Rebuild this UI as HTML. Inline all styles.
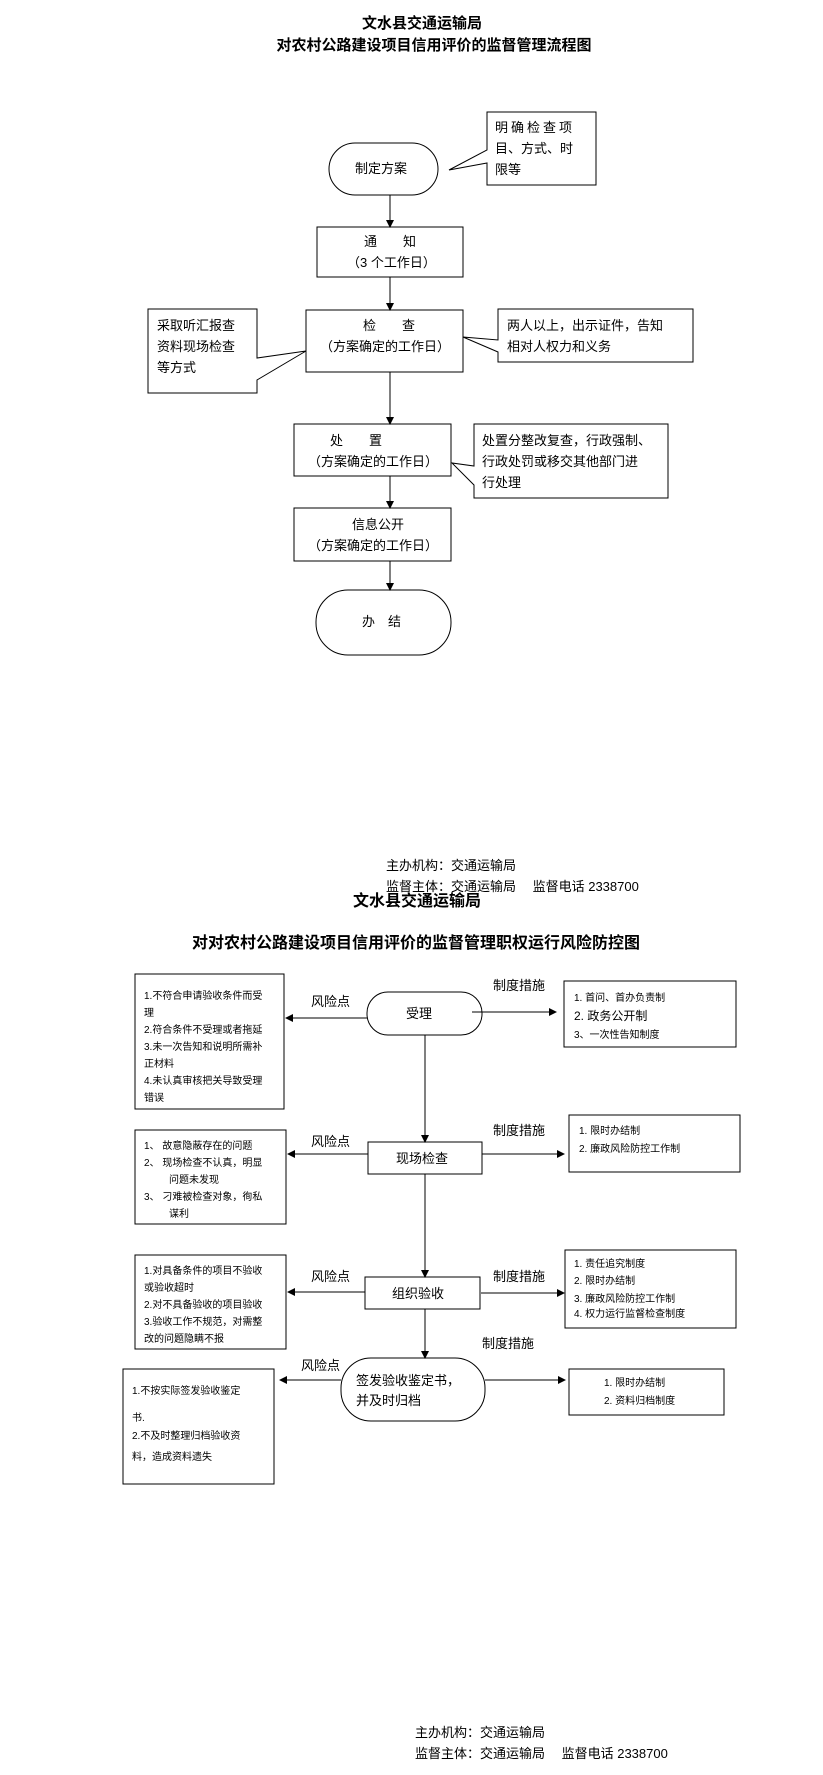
<!DOCTYPE html>
<html><head><meta charset="utf-8"><style>
html,body{margin:0;padding:0;background:#fff}
svg{display:block}
text{font-family:"Liberation Sans","Noto Sans CJK SC",sans-serif;fill:#000}
.b{font-weight:bold}
</style></head><body>
<svg width="823" height="1775" viewBox="0 0 823 1775" xmlns="http://www.w3.org/2000/svg">
<defs><marker id="a" markerWidth="8" markerHeight="8" refX="7" refY="4" orient="auto" markerUnits="userSpaceOnUse"><path d="M0,0 L8,4 L0,8 z" fill="#000"/></marker></defs>
<g stroke="#000" fill="none" stroke-width="1">
<!-- top chart -->
<rect x="329" y="143" width="109" height="52" rx="26"/>
<path d="M487,112 H596 V185 H487 V163 L449,170 L487,150 Z" fill="#fff"/>
<line x1="390" y1="195" x2="390" y2="227" marker-end="url(#a)"/>
<rect x="317" y="227" width="146" height="50"/>
<line x1="390" y1="277" x2="390" y2="310" marker-end="url(#a)"/>
<rect x="306" y="310" width="157" height="62"/>
<path d="M148,309 H257 V358 L306,351 L257,380 V393 H148 Z" fill="#fff"/>
<path d="M498,309 H693 V362 H498 V352 L463,337 L498,340 Z" fill="#fff"/>
<line x1="390" y1="372" x2="390" y2="424" marker-end="url(#a)"/>
<rect x="294" y="424" width="157" height="52"/>
<path d="M474,424 H668 V498 H474 V485 L452,463 L474,466 Z" fill="#fff"/>
<line x1="390" y1="476" x2="390" y2="508" marker-end="url(#a)"/>
<rect x="294" y="508" width="157" height="53"/>
<line x1="390" y1="561" x2="390" y2="590" marker-end="url(#a)"/>
<rect x="316" y="590" width="135" height="65" rx="32"/>
<!-- bottom chart -->
<rect x="135" y="974" width="149" height="135"/>
<rect x="367" y="992" width="115" height="43" rx="21"/>
<line x1="367" y1="1018" x2="286" y2="1018" marker-end="url(#a)"/>
<line x1="472" y1="1012" x2="556" y2="1012" marker-end="url(#a)"/>
<rect x="564" y="981" width="172" height="66"/>
<line x1="425" y1="1035" x2="425" y2="1142" marker-end="url(#a)"/>
<rect x="368" y="1142" width="114" height="32"/>
<rect x="135" y="1130" width="151" height="94"/>
<line x1="368" y1="1154" x2="288" y2="1154" marker-end="url(#a)"/>
<rect x="569" y="1115" width="171" height="57"/>
<line x1="482" y1="1154" x2="564" y2="1154" marker-end="url(#a)"/>
<line x1="425" y1="1174" x2="425" y2="1277" marker-end="url(#a)"/>
<rect x="365" y="1277" width="115" height="32"/>
<rect x="135" y="1255" width="151" height="94"/>
<line x1="365" y1="1292" x2="288" y2="1292" marker-end="url(#a)"/>
<rect x="565" y="1250" width="171" height="78"/>
<line x1="481" y1="1293" x2="564" y2="1293" marker-end="url(#a)"/>
<line x1="425" y1="1309" x2="425" y2="1358" marker-end="url(#a)"/>
<rect x="341" y="1358" width="144" height="63" rx="30"/>
<line x1="341" y1="1380" x2="280" y2="1380" marker-end="url(#a)"/>
<rect x="123" y="1369" width="151" height="115"/>
<line x1="485" y1="1380" x2="565" y2="1380" marker-end="url(#a)"/>
<rect x="569" y="1369" width="155" height="46"/>
</g>

<g font-size="15" class="b" text-anchor="middle">
<text x="422" y="28" class="b">文水县交通运输局</text>
<text x="434" y="50" class="b">对农村公路建设项目信用评价的监督管理流程图</text>
</g>
<g font-size="13">
<text x="355" y="173">制定方案</text>
<text x="495" y="132" letter-spacing="3">明确检查项</text>
<text x="495" y="153">目、方式、时</text>
<text x="495" y="174">限等</text>
<text x="364" y="246">通　　知</text>
<text x="347" y="267">（3 个工作日）</text>
<text x="363" y="330">检　　查</text>
<text x="320" y="351">（方案确定的工作日）</text>
<text x="157" y="330">采取听汇报查</text>
<text x="157" y="351">资料现场检查</text>
<text x="157" y="372">等方式</text>
<text x="507" y="330">两人以上，出示证件，告知</text>
<text x="507" y="351">相对人权力和义务</text>
<text x="330" y="445">处　　置</text>
<text x="308" y="466">（方案确定的工作日）</text>
<text x="482" y="445">处置分整改复查，行政强制、</text>
<text x="482" y="466">行政处罚或移交其他部门进</text>
<text x="482" y="487">行处理</text>
<text x="352" y="529">信息公开</text>
<text x="308" y="550">（方案确定的工作日）</text>
<text x="362" y="626">办　结</text>

<text x="386" y="870">主办机构：交通运输局</text>
<text x="386" y="891">监督主体：交通运输局　 监督电话  2338700</text>
<text x="415" y="1737">主办机构：交通运输局</text>
<text x="415" y="1758">监督主体：交通运输局　 监督电话  2338700</text>

<text x="311" y="1006">风险点</text>
<text x="493" y="990">制度措施</text>
<text x="406" y="1018">受理</text>
<text x="311" y="1146">风险点</text>
<text x="493" y="1135">制度措施</text>
<text x="396" y="1163">现场检查</text>
<text x="311" y="1281">风险点</text>
<text x="493" y="1281">制度措施</text>
<text x="392" y="1298">组织验收</text>
<text x="482" y="1348">制度措施</text>
<text x="301" y="1370">风险点</text>
<text x="356" y="1385">签发验收鉴定书，</text>
<text x="356" y="1405">并及时归档</text>
</g>
<g font-size="16" class="b" text-anchor="middle">
<text x="417" y="906">文水县交通运输局</text>
<text x="416" y="948">对对农村公路建设项目信用评价的监督管理职权运行风险防控图</text>
</g>
<g font-size="10">
<text x="144" y="999">1.不符合申请验收条件而受</text>
<text x="144" y="1016">理</text>
<text x="144" y="1033">2.符合条件不受理或者拖延</text>
<text x="144" y="1050">3.未一次告知和说明所需补</text>
<text x="144" y="1067">正材料</text>
<text x="144" y="1084">4.未认真审核把关导致受理</text>
<text x="144" y="1101">错误</text>
<text x="574" y="1001">1. 首问、首办负责制</text>
<text x="574" y="1020" font-size="12">2. 政务公开制</text>
<text x="574" y="1038">3、一次性告知制度</text>
<text x="144" y="1149">1、  故意隐蔽存在的问题</text>
<text x="144" y="1166">2、  现场检查不认真，明显</text>
<text x="169" y="1183">问题未发现</text>
<text x="144" y="1200">3、  刁难被检查对象，徇私</text>
<text x="169" y="1217">谋利</text>
<text x="579" y="1134">1. 限时办结制</text>
<text x="579" y="1152">2. 廉政风险防控工作制</text>
<text x="144" y="1274">1.对具备条件的项目不验收</text>
<text x="144" y="1291">或验收超时</text>
<text x="144" y="1308">2.对不具备验收的项目验收</text>
<text x="144" y="1325">3.验收工作不规范，对需整</text>
<text x="144" y="1342">改的问题隐瞒不报</text>
<text x="574" y="1267">1. 责任追究制度</text>
<text x="574" y="1284">2. 限时办结制</text>
<text x="574" y="1302">3. 廉政风险防控工作制</text>
<text x="574" y="1317">4. 权力运行监督检查制度</text>
<text x="132" y="1394">1.不按实际签发验收鉴定</text>
<text x="132" y="1421">书.</text>
<text x="132" y="1439">2.不及时整理归档验收资</text>
<text x="132" y="1460">料，造成资料遗失</text>
<text x="604" y="1386">1.    限时办结制</text>
<text x="604" y="1404">2.    资料归档制度</text>
</g>
</svg>
</body></html>
